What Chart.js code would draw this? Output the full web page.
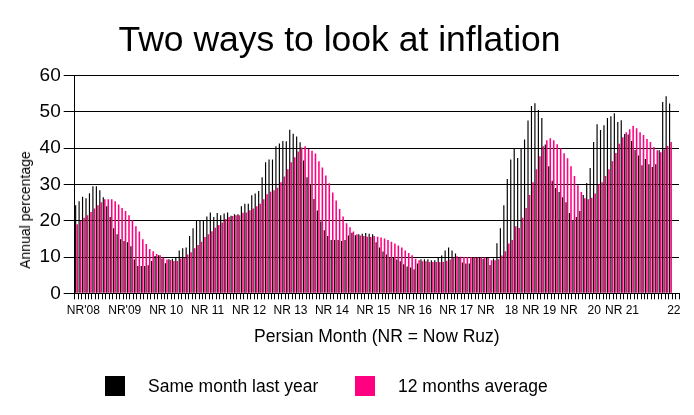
<!DOCTYPE html>
<html>
<head>
<meta charset="utf-8">
<script src="https://cdn.jsdelivr.net/npm/chart.js@4/dist/chart.umd.min.js"></script>
<style>
  body { margin: 0; background: #fff; }
  #wrap { position: relative; width: 694px; height: 415px; font-family: 'Liberation Sans', Arial, sans-serif; color: #000; }
  .ytitle { position: absolute; left: 25px; top: 210px; transform: translate(-50%, -50%) rotate(-90deg); font-size: 14px; white-space: nowrap; }
  .item { position: absolute; top: 376px; height: 20px; display: flex; align-items: center; font-size: 17.5px; white-space: nowrap; }
  .box { width: 20px; height: 20px; margin-right: 23px; }
</style>
</head>
<body>
<div id="wrap">
  <canvas id="chart" width="694" height="415"></canvas>
  <div class="ytitle">Annual percentage</div>
  <div class="item" style="left:105px"><span class="box" style="background:#000"></span>Same month last year</div>
  <div class="item" style="left:355px"><span class="box" style="background:#ff0080"></span>12 months average</div>
</div>
<script>
// one label every Nowruz, the last one sits near the end of the axis
const categoryCount = 175
const yearLabels = ["NR'08", "NR'09", 'NR 10', 'NR 11', 'NR 12', 'NR 13', 'NR 14', 'NR 15', 'NR 16', 'NR 17', 'NR   18', 'NR 19', 'NR   20', 'NR 21', '22']
const yearLabelIndex = [2, 14, 26, 38, 50, 62, 74, 86, 98, 110, 122, 134, 146, 158, 173]

const sameMonthLastYear = [
  24.3, 25.4, 26.6, 26.2, 27.6, 29.5, 29.5, 28.4, 26.5, 24.0, 21.0, 17.9,
  16.3, 14.9, 14.4, 14.1, 13.0, 9.3, 7.5, 7.5, 7.5, 7.7, 8.9, 10.3,
  10.5, 9.6, 8.3, 9.4, 9.5, 9.9, 11.8, 12.4, 12.6, 15.8, 17.9, 19.9,
  19.9, 19.9, 21.2, 22.3, 21.0, 22.1, 21.5, 22.0, 22.3, 21.4, 21.8, 21.8,
  24.0, 24.7, 24.7, 27.0, 27.5, 28.2, 32.0, 36.1, 36.9, 36.9, 40.5, 41.3,
  42.0, 41.9, 45.1, 44.0, 43.2, 41.6, 36.6, 32.0, 30.0, 26.0, 22.8, 19.8,
  17.4, 15.8, 14.7, 14.7, 14.7, 14.4, 14.7, 15.9, 16.7, 16.0, 16.3, 16.4,
  16.6, 16.4, 16.3, 14.1, 12.6, 11.5, 10.7, 10.0, 9.9, 9.3, 8.8, 8.0,
  7.4, 7.1, 6.6, 8.2, 9.4, 9.4, 9.4, 9.1, 9.1, 9.8, 10.4, 11.8,
  12.6, 11.8, 11.0, 10.0, 8.5, 8.2, 8.2, 9.9, 9.9, 9.9, 9.5, 9.9,
  7.8, 9.6, 13.8, 17.9, 24.3, 31.5, 36.9, 39.8, 37.3, 39.8, 42.4, 47.6,
  51.6, 52.4, 50.5, 48.3, 41.0, 35.0, 31.0, 29.0, 27.9, 26.5, 25.1, 22.1,
  20.2, 21.0, 22.7, 27.1, 30.4, 34.5, 41.7, 46.6, 45.0, 46.3, 48.3, 48.8,
  49.6, 47.2, 47.7, 43.9, 43.8, 42.0, 39.5, 38.0, 35.3, 37.0, 35.6, 34.8,
  35.6, 39.4, 52.7, 54.3, 52.3,
]

const twelveMonthAverage = [
  19.0, 19.9, 20.8, 21.5, 22.4, 23.4, 24.3, 25.1, 25.9, 25.9, 25.9, 25.4,
  24.5, 23.5, 22.7, 21.5, 20.1, 18.5, 17.0, 14.9, 13.6, 12.2, 11.6, 10.8,
  10.5, 9.9, 9.3, 9.2, 8.9, 8.9, 9.6, 9.8, 10.7, 11.3, 12.4, 13.3,
  14.2, 15.5, 16.3, 17.1, 18.1, 18.8, 19.5, 20.5, 21.0, 21.3, 21.5, 21.5,
  22.2, 22.3, 22.9, 23.4, 24.0, 24.7, 25.9, 27.3, 28.0, 28.4, 29.1, 30.6,
  32.2, 34.2, 36.1, 37.5, 39.1, 40.2, 40.5, 39.8, 39.3, 38.5, 36.4, 34.7,
  32.5, 30.3, 27.8, 25.6, 23.2, 21.2, 19.3, 18.2, 17.0, 16.3, 15.9, 15.8,
  15.6, 15.5, 15.8, 15.6, 15.4, 15.1, 14.7, 14.2, 13.7, 13.2, 12.6, 11.8,
  11.1, 10.5, 9.5, 9.1, 8.8, 8.8, 8.6, 8.6, 8.6, 8.6, 8.6, 9.0,
  9.3, 9.9, 10.2, 10.1, 10.0, 10.0, 10.0, 9.9, 9.9, 9.9, 9.9, 9.7,
  9.1, 9.1, 9.4, 10.4, 11.6, 13.7, 14.7, 18.5, 18.0, 20.8, 23.5, 27.1,
  30.6, 34.2, 37.8, 40.5, 42.2, 42.7, 42.2, 41.1, 40.0, 38.6, 37.2, 35.0,
  32.3, 29.8, 27.9, 26.2, 25.9, 26.3, 27.5, 30.0, 30.6, 32.3, 34.2, 36.4,
  38.7, 41.2, 43.0, 44.4, 45.2, 46.1, 45.5, 44.4, 43.6, 42.5, 41.7, 40.3,
  39.4, 38.9, 39.7, 40.6, 41.7,
]

const labels = Array.from({ length: categoryCount }, (_, i) => {
  const pos = yearLabelIndex.indexOf(i)
  return pos === -1 ? '' : yearLabels[pos]
})

Chart.defaults.font.family = "'Liberation Sans', Arial, sans-serif"
Chart.defaults.color = '#000'

new Chart(document.getElementById('chart'), {
  type: 'bar',
  data: {
    labels,
    datasets: [
      {
        label: 'Same month last year',
        data: sameMonthLastYear,
        backgroundColor: '#000000',
        categoryPercentage: 0.9,
        barPercentage: 0.75,
      },
      {
        label: '12 months average',
        data: twelveMonthAverage,
        backgroundColor: '#ff0080',
        categoryPercentage: 0.9,
        barPercentage: 1,
      },
    ],
  },
  options: {
    responsive: false,
    animation: false,
    layout: { padding: { left: 0, right: 15, top: 0, bottom: 67.7 } },
    plugins: {
      legend: { display: false },
      tooltip: { enabled: false },
      title: {
        display: true,
        text: 'Two ways to look at inflation',
        color: '#000',
        font: { size: 35.5, weight: 'normal' },
        padding: { top: 20, bottom: 13 },
      },
    },
    scales: {
      x: {
        grid: { drawOnChartArea: false, tickLength: 6, color: '#000', offset: true },
        border: { color: '#000' },
        ticks: { autoSkip: false, maxRotation: 0, minRotation: 0, padding: 4, font: { size: 12 } },
        title: { display: true, text: 'Persian Month (NR = Now Ruz)', font: { size: 17.5 }, padding: 0 },
        afterFit: (scale) => { scale.height = 54 },
      },
      y: {
        min: 0,
        max: 60,
        ticks: { stepSize: 10, padding: 3, font: { size: 19 } },
        grid: { color: '#000', tickLength: 11 },
        border: { color: '#000' },
        afterFit: (scale) => { scale.width = 74.7 },
      },
    },
  },
})
</script>
</body>
</html>
